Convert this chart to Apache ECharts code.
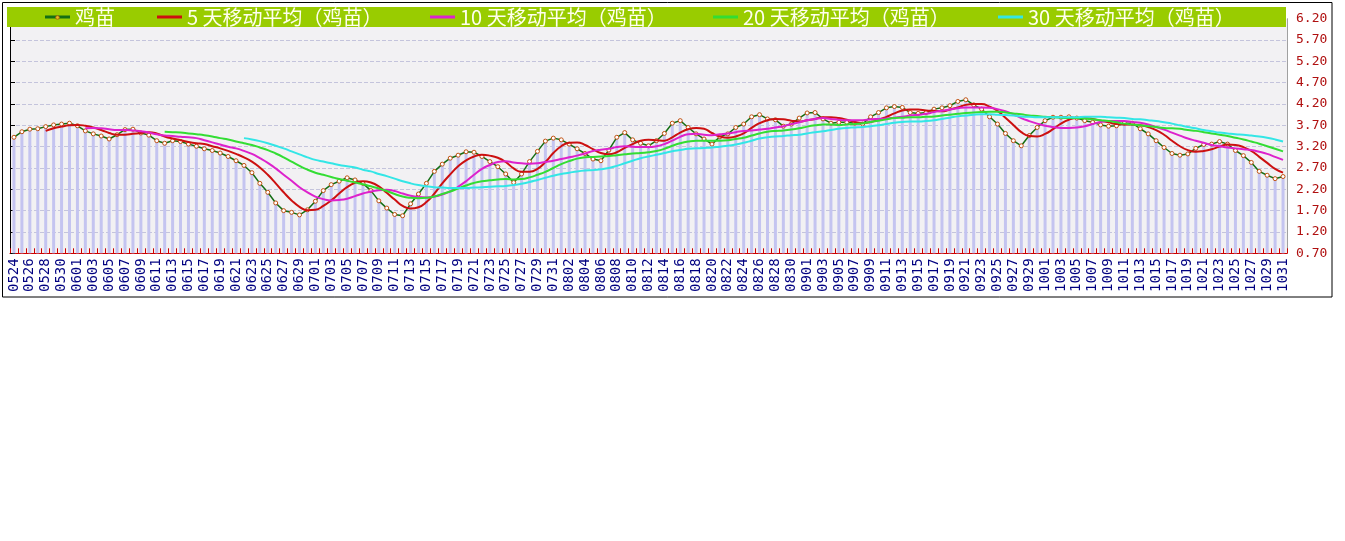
<!DOCTYPE html>
<html>
<head>
<meta charset="utf-8">
<script src="https://cdn.jsdelivr.net/npm/echarts@6/dist/echarts.min.js"></script>
<style>
html,body{margin:0;padding:0;background:#fff;}
#chart{width:1345px;height:541px;}
</style>
</head>
<body>
<div id="chart"></div>
<script>
const dates = [
'0524','0525','0526','0527','0528','0529','0530','0531',
'0601','0602','0603','0604','0605','0606','0607','0608','0609','0610','0611','0612','0613','0614','0615','0616','0617','0618','0619','0620','0621','0622','0623','0624','0625','0626','0627','0628','0629','0630',
'0701','0702','0703','0704','0705','0706','0707','0708','0709','0710','0711','0712','0713','0714','0715','0716','0717','0718','0719','0720','0721','0722','0723','0724','0725','0726','0727','0728','0729','0730','0731',
'0801','0802','0803','0804','0805','0806','0807','0808','0809','0810','0811','0812','0813','0814','0815','0816','0817','0818','0819','0820','0821','0822','0823','0824','0825','0826','0827','0828','0829','0830','0831',
'0901','0902','0903','0904','0905','0906','0907','0908','0909','0910','0911','0912','0913','0914','0915','0916','0917','0918','0919','0920','0921','0922','0923','0924','0925','0926','0927','0928','0929','0930',
'1001','1002','1003','1004','1005','1006','1007','1008','1009','1010','1011','1012','1013','1014','1015','1016','1017','1018','1019','1020','1021','1022','1023','1024','1025','1026','1027','1028','1029','1030','1031'
];

const yTicks = ['0.70','1.20','1.70','2.20','2.70','3.20','3.70','4.20','4.70','5.20','5.70','6.20'];

const price = [
3.42,3.55,3.61,3.62,3.67,3.71,3.73,3.75,3.69,3.57,
3.50,3.45,3.38,3.48,3.60,3.61,3.52,3.47,3.34,3.28,
3.34,3.32,3.26,3.21,3.15,3.11,3.05,2.97,2.87,2.76,
2.59,2.34,2.13,1.88,1.70,1.66,1.60,1.72,1.92,2.17,
2.31,2.39,2.47,2.42,2.34,2.17,1.93,1.76,1.61,1.58,
1.86,2.09,2.34,2.62,2.79,2.93,3.00,3.08,3.07,2.97,
2.85,2.73,2.56,2.36,2.56,2.85,3.09,3.33,3.40,3.36,
3.26,3.15,3.04,2.91,2.87,3.12,3.42,3.53,3.36,3.28,
3.22,3.34,3.51,3.75,3.81,3.65,3.50,3.38,3.26,3.43,
3.50,3.65,3.73,3.90,3.95,3.85,3.83,3.68,3.73,3.87,
3.99,4.00,3.85,3.75,3.77,3.77,3.75,3.73,3.90,4.00,
4.11,4.14,4.12,4.00,3.98,4.00,4.08,4.11,4.16,4.26,
4.30,4.18,4.08,3.90,3.73,3.51,3.34,3.22,3.46,3.65,
3.81,3.89,3.89,3.90,3.87,3.81,3.77,3.71,3.68,3.69,
3.75,3.75,3.62,3.50,3.34,3.18,3.04,3.00,3.03,3.16,
3.25,3.26,3.32,3.26,3.11,2.99,2.83,2.62,2.53,2.45,
2.50
];

// moving-average values (start at 0528, 0602, 0612, 0622)
const ma5 = [
3.57,3.63,3.67,3.70,3.71,3.69,3.65,3.59,3.52,3.48,
3.48,3.50,3.52,3.54,3.51,3.44,3.39,3.35,3.31,3.28,
3.26,3.21,3.16,3.10,3.03,2.95,2.85,2.71,2.54,2.34,
2.13,1.94,1.79,1.71,1.72,1.81,1.94,2.10,2.25,2.35,
2.39,2.36,2.27,2.12,1.96,1.81,1.75,1.78,1.90,2.10,
2.34,2.55,2.74,2.88,2.97,3.01,2.99,2.94,2.84,2.69,
2.61,2.61,2.68,2.84,3.05,3.21,3.29,3.30,3.24,3.14,
3.05,3.02,3.07,3.17,3.26,3.34,3.36,3.35,3.34,3.42,
3.53,3.61,3.64,3.62,3.52,3.44,3.41,3.44,3.51,3.64,
3.75,3.82,3.85,3.84,3.81,3.79,3.82,3.85,3.89,3.89,
3.87,3.83,3.78,3.75,3.78,3.83,3.90,3.98,4.05,4.07,
4.07,4.05,4.04,4.03,4.07,4.12,4.18,4.20,4.20,4.14,
4.04,3.88,3.71,3.54,3.45,3.44,3.50,3.61,3.74,3.83,
3.87,3.87,3.85,3.81,3.77,3.73,3.72,3.72,3.70,3.66,
3.59,3.48,3.34,3.21,3.12,3.08,3.10,3.14,3.20,3.25,
3.24,3.19,3.10,2.96,2.82,2.68,2.59
];
const ma10 = [
3.63,3.64,3.63,3.61,3.59,3.59,3.58,3.56,3.53,3.49,
3.46,3.45,3.43,3.42,3.40,3.35,3.30,3.25,3.20,3.16,
3.10,3.03,2.93,2.82,2.69,2.54,2.40,2.25,2.13,2.03,
1.97,1.94,1.95,1.98,2.04,2.10,2.15,2.18,2.19,2.16,
2.10,2.05,2.02,2.01,2.03,2.08,2.15,2.26,2.39,2.54,
2.68,2.77,2.84,2.86,2.83,2.81,2.80,2.81,2.84,2.87,
2.91,2.95,2.99,3.04,3.10,3.13,3.15,3.19,3.21,3.20,
3.19,3.19,3.21,3.26,3.34,3.43,3.49,3.50,3.48,3.47,
3.49,3.51,3.54,3.57,3.58,3.60,3.62,3.65,3.68,3.73,
3.77,3.82,3.85,3.87,3.85,3.83,3.82,3.82,3.82,3.84,
3.85,3.86,3.88,3.90,3.93,3.95,3.97,4.01,4.04,4.07,
4.10,4.12,4.12,4.12,4.11,4.08,4.03,3.96,3.87,3.80,
3.74,3.69,3.66,3.64,3.64,3.65,3.68,3.73,3.78,3.80,
3.80,3.80,3.78,3.76,3.72,3.66,3.60,3.53,3.46,3.39,
3.34,3.29,3.24,3.21,3.18,3.16,3.14,3.12,3.08,3.03,
2.96,2.89
];
const ma20 = [
3.55,3.54,3.53,3.51,3.49,3.47,3.44,3.40,3.37,3.32,
3.28,3.24,3.18,3.12,3.04,2.95,2.85,2.75,2.66,2.59,
2.54,2.49,2.44,2.40,2.36,2.32,2.27,2.22,2.16,2.09,
2.03,2.00,1.99,2.00,2.03,2.09,2.15,2.22,2.29,2.35,
2.39,2.41,2.43,2.44,2.43,2.44,2.48,2.54,2.61,2.70,
2.79,2.86,2.92,2.95,2.96,2.97,2.98,3.00,3.02,3.04,
3.05,3.07,3.10,3.15,3.22,3.28,3.32,3.34,3.34,3.34,
3.34,3.35,3.38,3.41,3.46,3.51,3.55,3.57,3.58,3.60,
3.63,3.67,3.70,3.72,3.72,3.71,3.72,3.73,3.75,3.78,
3.81,3.84,3.87,3.88,3.89,3.89,3.90,3.91,3.93,3.95,
3.97,3.99,4.00,4.01,4.02,4.02,4.00,3.98,3.96,3.93,
3.92,3.90,3.89,3.88,3.87,3.87,3.86,3.84,3.82,3.80,
3.77,3.74,3.72,3.70,3.68,3.66,3.64,3.63,3.62,3.59,
3.57,3.54,3.51,3.48,3.45,3.41,3.37,3.32,3.27,3.21,
3.15,3.09
];
const ma30 = [
3.40,3.37,3.33,3.28,3.22,3.16,3.09,3.02,2.95,2.89,
2.85,2.81,2.77,2.74,2.71,2.66,2.62,2.56,2.51,2.45,
2.39,2.34,2.30,2.27,2.25,2.24,2.23,2.23,2.23,2.24,
2.25,2.26,2.27,2.28,2.30,2.33,2.37,2.42,2.47,2.52,
2.56,2.59,2.62,2.64,2.65,2.67,2.70,2.75,2.81,2.87,
2.93,2.97,3.01,3.05,3.09,3.12,3.15,3.16,3.17,3.18,
3.20,3.22,3.25,3.29,3.34,3.39,3.42,3.44,3.45,3.47,
3.48,3.51,3.54,3.56,3.59,3.62,3.64,3.65,3.66,3.68,
3.70,3.73,3.76,3.78,3.79,3.79,3.80,3.82,3.85,3.88,
3.91,3.93,3.95,3.96,3.96,3.95,3.94,3.93,3.91,3.90,
3.89,3.89,3.89,3.89,3.89,3.89,3.90,3.90,3.90,3.89,
3.88,3.87,3.85,3.84,3.82,3.80,3.77,3.74,3.70,3.66,
3.63,3.59,3.56,3.53,3.51,3.49,3.48,3.46,3.44,3.41,
3.37,3.32
];

const names = ['鸡苗','5 天移动平均（鸡苗）','10 天移动平均（鸡苗）','20 天移动平均（鸡苗）','30 天移动平均（鸡苗）'];
const colors = ['#146e14','#cc1010','#dd22cc','#33dd33','#33e6e6'];

function pad(arr){ return new Array(dates.length - arr.length).fill(null).concat(arr); }

const chart = echarts.init(document.getElementById('chart'), null, {renderer:'canvas'});
const legendLefts = [45, 157, 430, 713, 998];
const legends = names.map((n,i)=>({
  data:[{name:n, icon:'rect', itemStyle:{color:colors[i], borderWidth:0, borderColor:colors[i]}}],
  left: legendLefts[i], top: 7, padding: 0,
  itemWidth: 25, itemHeight: 3, z: 60,
  selectedMode: false,
  textStyle:{color:'#ffffee', fontSize:20, fontFamily:'Noto Sans CJK SC', padding:[0,0,0,0]}
}));

chart.setOption({
  animation: false,
  backgroundColor: '#ffffff',
  grid: {left: 10, right: 58, top: 18.7, bottom: 287.7, show: true, backgroundColor: '#f2f1f3', borderWidth: 0},
  legend: legends,
  graphic: [
    {type:'rect', z: 50, shape:{x:7, y:7, width:1279, height:20}, style:{fill:'#99cc00'}},
    {type:'circle', z: 70, shape:{cx:57.5, cy:17.5, r:1.8}, style:{fill:'#e0c020', stroke:'#c05010', lineWidth:0.8}},
    {type:'rect', z: 50, shape:{x:2.5, y:2.5, width:1329.5, height:294.5}, style:{fill:'none', stroke:'#000', lineWidth:1}}
  ],
  xAxis: {
    type:'category', data: dates, boundaryGap: true,
    axisLine:{show:true, lineStyle:{color:'#cc0000', width:1}},
    axisTick:{show:true, inside:true, length:5, interval:0, lineStyle:{color:'#cc0000'}},
    axisLabel:{interval:1, rotate:90, margin:5, color:'#000080', fontSize:14, fontFamily:'DejaVu Sans Mono'},
    splitLine:{show:false}
  },
  yAxis: [
    {type:'value', position:'right', min:0.7, max:6.2, interval:0.5,
     axisLine:{show:true, lineStyle:{color:'#a0a0a0'}},
     axisTick:{show:false},
     axisLabel:{margin:9, color:'#b01010', fontSize:13, fontFamily:'DejaVu Sans Mono', formatter:(v)=>{const s=v.toFixed(2); return yTicks.includes(s)?s:'';}},
     splitLine:{show:true, lineStyle:{color:'#c4c4dc', type:'dashed', width:1}}
    },
    {type:'value', position:'left', min:0.7, max:6.2, interval:0.5,
     axisLine:{show:true, onZero:false, lineStyle:{color:'#000'}},
     axisTick:{show:true, inside:true, length:5, lineStyle:{color:'#000'}},
     axisLabel:{show:false}, splitLine:{show:false}
    }
  ],
  series: [
    {name:'柱', type:'bar', data: price, barWidth:3, itemStyle:{color:'#c4c4f0'}, z:1, silent:true},
    {name:names[0], type:'line', data: price, z:3, symbol:'circle', symbolSize:4, showSymbol:true, showAllSymbol:true,
     lineStyle:{color:colors[0], width:1.5}, itemStyle:{color:'#ffffff', borderColor:'#c05010', borderWidth:1}},
    {name:names[1], type:'line', data: pad(ma5), smooth:true, symbol:'none', z:4, lineStyle:{color:colors[1], width:2}, itemStyle:{color:colors[1]}},
    {name:names[2], type:'line', data: pad(ma10), smooth:true, symbol:'none', z:4, lineStyle:{color:colors[2], width:2}, itemStyle:{color:colors[2]}},
    {name:names[3], type:'line', data: pad(ma20), smooth:true, symbol:'none', z:4, lineStyle:{color:colors[3], width:2}, itemStyle:{color:colors[3]}},
    {name:names[4], type:'line', data: pad(ma30), smooth:true, symbol:'none', z:4, lineStyle:{color:colors[4], width:2}, itemStyle:{color:colors[4]}}
  ]
});
</script>
</body>
</html>
